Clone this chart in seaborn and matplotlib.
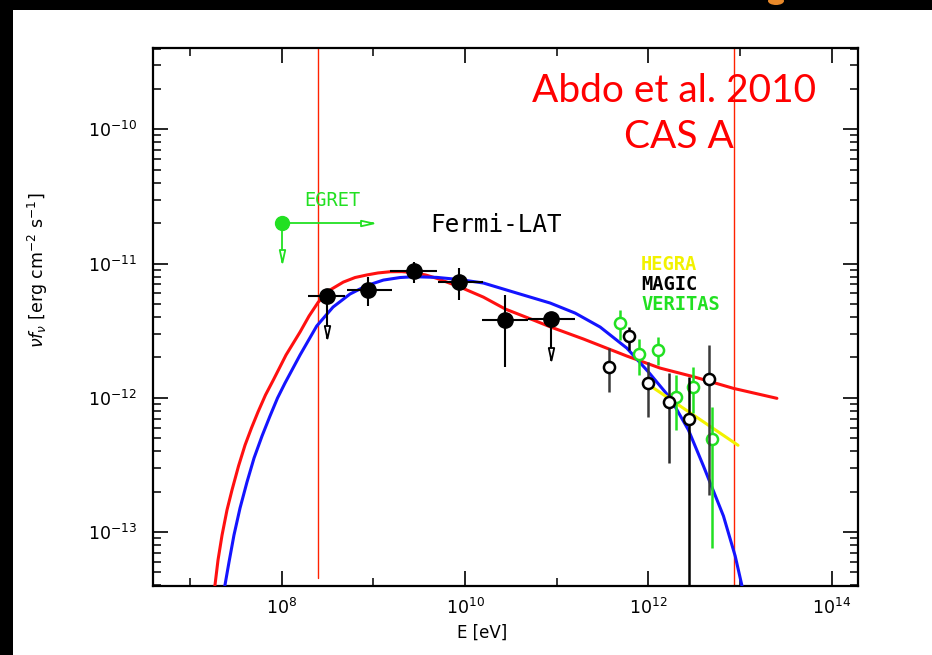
import numpy as np
import matplotlib
matplotlib.use("Agg")
import matplotlib.pyplot as plt
import seaborn as sns
from matplotlib.path import Path
from matplotlib.patches import Rectangle, Ellipse
from matplotlib.ticker import FixedLocator, NullFormatter, LogFormatterSciNotation

# ---------------- data ----------------
# Fermi-LAT spectral points (E in eV, nu F_nu in erg cm^-2 s^-1)
fermi_E = [3.15e8, 8.7e8, 2.78e9, 8.67e9, 2.75e10, 8.7e10]
fermi_E_lo = [1.94e8, 5.12e8, 1.52e9, 5.08e9, 1.53e10, 4.88e10]
fermi_E_hi = [4.91e8, 1.58e9, 4.92e9, 1.57e10, 4.88e10, 1.59e11]
fermi_F = [5.75e-12, 6.35e-12, 8.85e-12, 7.33e-12, 3.79e-12, 3.84e-12]
fermi_F_lo = [5.75e-12, 4.83e-12, 7.16e-12, 5.35e-12, 1.70e-12, 3.84e-12]
fermi_F_hi = [5.75e-12, 7.98e-12, 1.03e-11, 9.27e-12, 5.83e-12, 3.84e-12]
fermi_ul = [True, False, False, False, False, True]
fermi_ul_tip = [2.80e-12, None, None, None, None, 1.91e-12]

# EGRET upper limit
egret_E = [1.0e8]
egret_F = [2.0e-11]
egret_E_arrow = [1.0e9]
egret_F_arrow = [1.03e-11]

# MAGIC points
magic_E = [3.73e11, 6.07e11, 1.00e12, 1.66e12, 2.74e12, 4.53e12]
magic_F = [1.70e-12, 2.90e-12, 1.28e-12, 9.25e-13, 6.95e-13, 1.37e-12]
magic_F_lo = [1.11e-12, 2.27e-12, 7.23e-13, 3.28e-13, 1.0e-14, 1.89e-13]
magic_F_hi = [2.33e-12, 3.38e-12, 1.86e-12, 1.53e-12, 1.44e-12, 2.47e-12]
magic_bar_colors = ["#3a3a3a", "#000000", "#3a3a3a", "#2a2a2a", "#000000", "#3a3a3a"]

# VERITAS points
veritas_E = [4.92e11, 7.93e11, 1.26e12, 2.00e12, 3.10e12, 4.93e12]
veritas_F = [3.59e-12, 2.11e-12, 2.27e-12, 1.02e-12, 1.21e-12, 4.93e-13]
veritas_F_lo = [2.69e-12, 1.48e-12, 1.75e-12, 5.75e-13, 7.66e-13, 7.60e-14]
veritas_F_hi = [4.51e-12, 2.72e-12, 2.82e-12, 1.48e-12, 1.70e-12, 8.57e-13]

# HEGRA power law
hegra_E = [9.6e11, 9.5e12]
hegra_F = [1.28e-12, 4.43e-13]

# Model curves (log10 E [eV], log10 nuF_nu)
red_logE = [7.250, 7.272, 7.305, 7.349, 7.403, 7.458, 7.529, 7.600, 7.670, 7.741,
            7.823, 7.908, 8.047, 8.200, 8.298, 8.399, 8.527, 8.672, 8.800, 8.928,
            9.050, 9.182, 9.310, 9.444, 9.570, 9.692, 9.938, 10.200, 10.440,
            10.746, 10.939, 11.291, 11.765, 12.129, 12.492, 12.929, 13.402]
red_logF = [-13.507, -13.395, -13.209, -13.023, -12.836, -12.686, -12.508, -12.352,
            -12.225, -12.106, -11.979, -11.868, -11.681, -11.510, -11.391, -11.287,
            -11.197, -11.138, -11.104, -11.085, -11.070, -11.061, -11.060, -11.068,
            -11.085, -11.110, -11.173, -11.250, -11.339, -11.421, -11.474, -11.562,
            -11.689, -11.779, -11.843, -11.930, -12.004]
blue_logE = [7.348, 7.381, 7.425, 7.479, 7.545, 7.621, 7.698, 7.785, 7.872, 7.954,
             8.036, 8.200, 8.382, 8.560, 8.745, 8.928, 9.109, 9.291, 9.444, 9.692,
             9.950, 10.200, 10.565, 10.928, 11.201, 11.474, 11.765, 12.001, 12.238,
             12.437, 12.601, 12.819, 12.947, 13.056]
blue_logF = [-13.507, -13.395, -13.224, -13.023, -12.822, -12.628, -12.449, -12.285,
             -12.136, -12.002, -11.890, -11.681, -11.465, -11.324, -11.227, -11.164,
             -11.123, -11.104, -11.098, -11.103, -11.120, -11.145, -11.220, -11.294,
             -11.369, -11.473, -11.630, -11.808, -12.002, -12.240, -12.509, -12.881,
             -13.179, -13.506]

# LAT energy range markers
range_E = [2.5e8, 8.5e12]

x_ticks_major = [1e8, 1e10, 1e12, 1e14]
x_ticks_minor = [1e7, 1e9, 1e11, 1e13]
y_ticks_major = [1e-13, 1e-12, 1e-11, 1e-10]
y_ticks_minor = [m * 10.0 ** p for p in (-14, -13, -12, -11, -10) for m in range(2, 10)
                 if 10 ** -13.4 <= m * 10.0 ** p <= 10 ** -9.394]

# ---------------- style ----------------
sns.set_theme(style="ticks")
plt.rcParams["font.family"] = ["DejaVu Sans"]
plt.rcParams["mathtext.fontset"] = "dejavusans"

W, H = 932, 655
fig = plt.figure(figsize=(W / 100, H / 100), dpi=100, facecolor="black")


def fx(px):
    return px / W


def fy(py):
    return 1 - py / H


# white slide area
fig.patches.append(Rectangle((fx(13), 0), 1, fy(10), transform=fig.transFigure,
                             facecolor="white", edgecolor="none", zorder=-10))
fig.patches.append(Ellipse((fx(776), fy(1)), 16 / W, 8 / H, transform=fig.transFigure,
                           facecolor="#e8892a", edgecolor="none", zorder=-5))

L, R, T, B = 153.3, 858.3, 48.0, 585.7
ax = fig.add_axes([fx(L), fy(B), (R - L) / W, (B - T) / H])
ax.set_facecolor("white")
ax.set_xscale("log")
ax.set_yscale("log")
ax.set_xlim(10 ** 6.599, 10 ** 14.29)
ax.set_ylim(10 ** -13.40, 10 ** -9.394)

RED = "#ff1010"
BLUE = "#1414ff"
GREEN = "#22e022"
YELLOW = "#f2f200"

# arrow-head markers (tip at the origin)
head_down = Path([(0, 0), (-0.22, 1), (0.22, 1), (0, 0)],
                 [Path.MOVETO, Path.LINETO, Path.LINETO, Path.CLOSEPOLY])
head_right = Path([(0, 0), (-1, 0.22), (-1, -0.22), (0, 0)],
                  [Path.MOVETO, Path.LINETO, Path.LINETO, Path.CLOSEPOLY])

# model curves
sns.lineplot(x=10 ** np.array(red_logE), y=10 ** np.array(red_logF), ax=ax,
             sort=False, estimator=None, color=RED, lw=2.2, zorder=3)
sns.lineplot(x=10 ** np.array(blue_logE), y=10 ** np.array(blue_logF), ax=ax,
             sort=False, estimator=None, color=BLUE, lw=2.2, zorder=3)
sns.lineplot(x=hegra_E, y=hegra_F, ax=ax, sort=False, estimator=None,
             color=YELLOW, lw=2.2, zorder=4)

# energy range markers
ax.axvline(range_E[0], ymin=0.014, ymax=1, color="#ff2200", lw=1.0, zorder=2)
ax.axvline(range_E[1], ymin=0, ymax=1, color="#ff2200", lw=1.0, zorder=2)

# EGRET
ax.plot([egret_E[0], egret_E_arrow[0]], [egret_F[0], egret_F[0]], color=GREEN, lw=1.3, zorder=5)
ax.plot([egret_E[0], egret_E[0]], [egret_F[0], egret_F_arrow[0]], color=GREEN, lw=1.3, zorder=5)
ax.plot(egret_E_arrow, egret_F, marker=head_right, ms=18, mfc="white", mec=GREEN, mew=1.3,
        ls="none", zorder=6)
ax.plot(egret_E, egret_F_arrow, marker=head_down, ms=18, mfc="white", mec=GREEN, mew=1.3,
        ls="none", zorder=6)
ax.plot(egret_E, egret_F, "o", ms=10, color=GREEN, zorder=7)

# Fermi-LAT
fE = np.array(fermi_E)
fF = np.array(fermi_F)
xerr = [fE - np.array(fermi_E_lo), np.array(fermi_E_hi) - fE]
yerr = [fF - np.array(fermi_F_lo), np.array(fermi_F_hi) - fF]
ax.errorbar(fE, fF, xerr=xerr, yerr=yerr, fmt="o", ms=11, color="black",
            ecolor="black", elinewidth=1.5, capsize=0, zorder=8)
for e, f, ul, tip in zip(fermi_E, fermi_F, fermi_ul, fermi_ul_tip):
    if ul:
        ax.plot([e, e], [f, tip], color="black", lw=1.5, zorder=7)
        ax.plot([e], [tip], marker=head_down, ms=18, mfc="white", mec="black", mew=1.3,
                ls="none", zorder=8)

# VERITAS
for e, f, lo, hi in zip(veritas_E, veritas_F, veritas_F_lo, veritas_F_hi):
    ax.errorbar([e], [f], yerr=[[f - lo], [hi - f]], fmt="o", ms=8, mfc="white",
                mec=GREEN, mew=1.8, ecolor=GREEN, elinewidth=1.8, capsize=0, zorder=9)

# MAGIC
for e, f, lo, hi, c in zip(magic_E, magic_F, magic_F_lo, magic_F_hi, magic_bar_colors):
    ax.errorbar([e], [f], yerr=[[f - lo], [hi - f]], fmt="o", ms=8, mfc="white",
                mec="black", mew=1.8, ecolor=c, elinewidth=1.8, capsize=0, zorder=10)

# axes, ticks
ax.xaxis.set_major_locator(FixedLocator(x_ticks_major))
ax.xaxis.set_minor_locator(FixedLocator(x_ticks_minor))
ax.xaxis.set_major_formatter(LogFormatterSciNotation())
ax.xaxis.set_minor_formatter(NullFormatter())
ax.yaxis.set_major_locator(FixedLocator(y_ticks_major))
ax.yaxis.set_minor_locator(FixedLocator(y_ticks_minor))
ax.yaxis.set_major_formatter(LogFormatterSciNotation())
ax.yaxis.set_minor_formatter(NullFormatter())
ax.tick_params(which="both", direction="in", top=True, right=True, color="black",
               labelsize=12.5, labelcolor="black")
ax.tick_params(which="major", length=10.5, width=1.2, pad=9)
ax.tick_params(which="minor", length=5.5, width=1.1)
ax.tick_params(axis="y", which="major", pad=12)
for s in ax.spines.values():
    s.set_color("black")
    s.set_linewidth(1.6)

ax.set_xlabel("E [eV]", fontsize=12, color="black")
ax.xaxis.set_label_coords((482 - L) / (R - L), -(624 - B) / (B - T))
ax.set_ylabel(r"$\nu f_\nu$ [erg cm$^{-2}$ s$^{-1}$]", fontsize=12.5, color="black")
ax.yaxis.set_label_coords(-(L - 50) / (R - L), (B - 270) / (B - T))

# annotations
mono = ["DejaVu Sans Mono"]
fig.text(fx(332), fy(200), "EGRET", color=GREEN, fontsize=13.5, family=mono,
         ha="center", va="center")
fig.text(fx(496), fy(225), "Fermi-LAT", color="black", fontsize=17.5, family=mono,
         ha="center", va="center")
fig.text(fx(641), fy(265), "HEGRA", color=YELLOW, fontsize=13.5, family=mono,
         ha="left", va="center", fontweight="bold")
fig.text(fx(641), fy(285), "MAGIC", color="black", fontsize=13.5, family=mono,
         ha="left", va="center", fontweight="bold")
fig.text(fx(641), fy(305), "VERITAS", color=GREEN, fontsize=13.5, family=mono,
         ha="left", va="center", fontweight="bold")

fig.text(fx(674.5), fy(102), "Abdo et al. 2010", color="#ff0000", fontsize=28,
         family=["Lato", "DejaVu Sans"], ha="center", va="baseline")
fig.text(fx(679), fy(148), "CAS A", color="#ff0000", fontsize=28,
         family=["Lato", "DejaVu Sans"], ha="center", va="baseline")

fig.savefig("out.png", dpi=100, facecolor=fig.get_facecolor())
